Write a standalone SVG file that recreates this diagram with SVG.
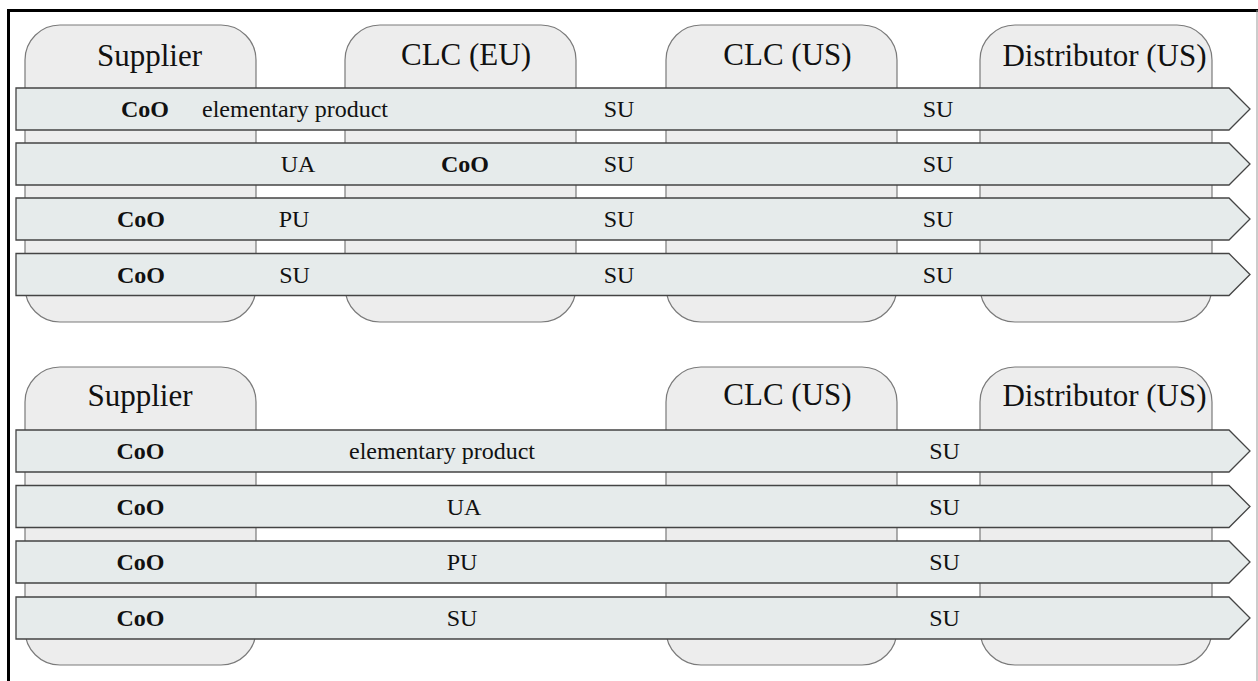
<svg xmlns="http://www.w3.org/2000/svg" width="1258" height="681" viewBox="0 0 1258 681">
  <defs>
    <style>
      .lane { fill: #ededed; stroke: #7a7a7a; stroke-width: 1.2; }
      .flow { fill: #e6ebeb; stroke: #444444; stroke-width: 1.3; }
      .title { font-family: "Liberation Serif", "Times New Roman", serif; font-size: 31px; fill: #111; text-anchor: middle; }
      .lbl { font-family: "Liberation Serif", "Times New Roman", serif; font-size: 24px; fill: #111; text-anchor: middle; }
      .b { font-weight: bold; }
    </style>
    <!-- one flow band: body 16..1229, pointed tip at 1250 -->
    <path id="band" d="M16,0 H1229 L1250,21 L1229,42 H16 Z"/>
  </defs>

  <rect x="0" y="0" width="1258" height="681" fill="#ffffff"/>

  <!-- outer frame -->
  <line x1="8.5" y1="9" x2="8.5" y2="681" stroke="#000" stroke-width="3"/>
  <line x1="7" y1="10.5" x2="1258" y2="10.5" stroke="#000" stroke-width="3"/>
  <line x1="1257" y1="10" x2="1257" y2="681" stroke="#999" stroke-width="1"/>

  <!-- upper chain: swimlanes -->
  <g id="lane-supplier-1"><rect class="lane" x="25" y="25" width="231" height="297" rx="35" ry="35"/><text class="title" x="149.5" y="66">Supplier</text></g>
  <g id="lane-clc-eu-1"><rect class="lane" x="345" y="25" width="231" height="297" rx="35" ry="35"/><text class="title" x="466" y="65">CLC (EU)</text></g>
  <g id="lane-clc-us-1"><rect class="lane" x="666" y="25" width="231" height="297" rx="35" ry="35"/><text class="title" x="787.5" y="65">CLC (US)</text></g>
  <g id="lane-distributor-1"><rect class="lane" x="980" y="25" width="232" height="297" rx="35" ry="35"/><text class="title" x="1104.5" y="66">Distributor (US)</text></g>

  <!-- lower chain: swimlanes -->
  <g id="lane-supplier-2"><rect class="lane" x="25" y="367" width="231" height="298" rx="35" ry="35"/><text class="title" x="140" y="406">Supplier</text></g>
  <g id="lane-clc-us-2"><rect class="lane" x="666" y="367" width="231" height="298" rx="35" ry="35"/><text class="title" x="787.5" y="405">CLC (US)</text></g>
  <g id="lane-distributor-2"><rect class="lane" x="980" y="367" width="232" height="298" rx="35" ry="35"/><text class="title" x="1104.5" y="406">Distributor (US)</text></g>

  <!-- flow bands -->
  <g id="connectors">
    <use href="#band" class="flow" y="88"/>
    <use href="#band" class="flow" y="143"/>
    <use href="#band" class="flow" y="198"/>
    <use href="#band" class="flow" y="253.5"/>
    <use href="#band" class="flow" y="430"/>
    <use href="#band" class="flow" y="485.5"/>
    <use href="#band" class="flow" y="541"/>
    <use href="#band" class="flow" y="597"/>
  </g>

  <!-- upper chain: band labels -->
  <g id="flow-1-1">
    <text class="lbl b" x="145" y="117">CoO</text>
    <text class="lbl" x="295" y="117">elementary product</text>
    <text class="lbl" x="619" y="117">SU</text>
    <text class="lbl" x="938" y="117">SU</text>
  </g>
  <g id="flow-1-2">
    <text class="lbl" x="298" y="172">UA</text>
    <text class="lbl b" x="465" y="172">CoO</text>
    <text class="lbl" x="619" y="172">SU</text>
    <text class="lbl" x="938" y="172">SU</text>
  </g>
  <g id="flow-1-3">
    <text class="lbl b" x="141" y="227">CoO</text>
    <text class="lbl" x="294" y="227">PU</text>
    <text class="lbl" x="619" y="227">SU</text>
    <text class="lbl" x="938" y="227">SU</text>
  </g>
  <g id="flow-1-4">
    <text class="lbl b" x="141" y="282.5">CoO</text>
    <text class="lbl" x="294.5" y="282.5">SU</text>
    <text class="lbl" x="619" y="282.5">SU</text>
    <text class="lbl" x="938" y="282.5">SU</text>
  </g>

  <!-- lower chain: band labels -->
  <g id="flow-2-1">
    <text class="lbl b" x="140.5" y="459">CoO</text>
    <text class="lbl" x="442" y="459">elementary product</text>
    <text class="lbl" x="944.5" y="459">SU</text>
  </g>
  <g id="flow-2-2">
    <text class="lbl b" x="140.5" y="514.5">CoO</text>
    <text class="lbl" x="464" y="514.5">UA</text>
    <text class="lbl" x="944.5" y="514.5">SU</text>
  </g>
  <g id="flow-2-3">
    <text class="lbl b" x="140.5" y="570">CoO</text>
    <text class="lbl" x="462" y="570">PU</text>
    <text class="lbl" x="944.5" y="570">SU</text>
  </g>
  <g id="flow-2-4">
    <text class="lbl b" x="140.5" y="626">CoO</text>
    <text class="lbl" x="462" y="626">SU</text>
    <text class="lbl" x="944.5" y="626">SU</text>
  </g>
</svg>
